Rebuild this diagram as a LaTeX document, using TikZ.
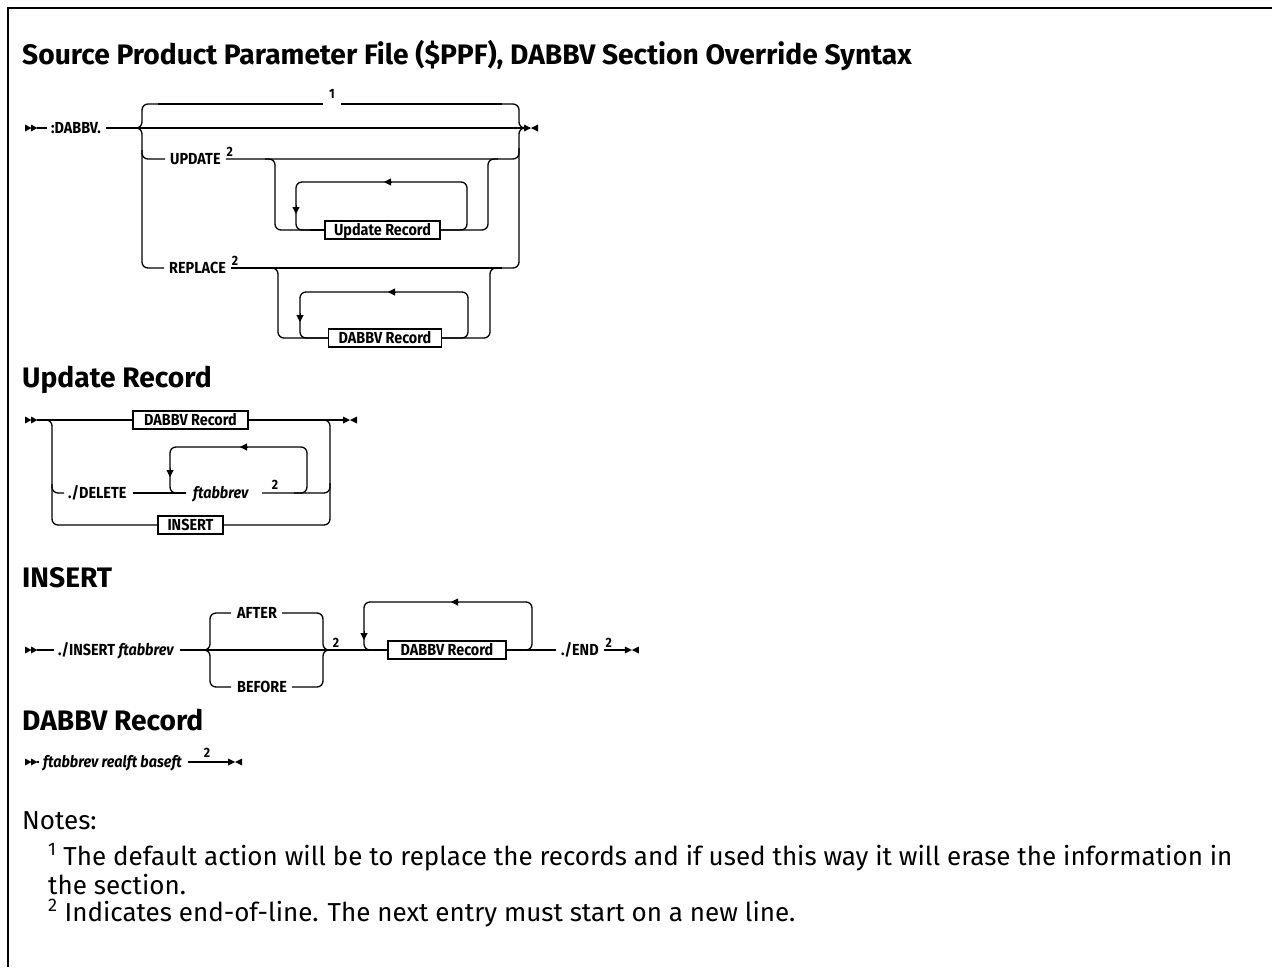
\documentclass[tikz,border=0pt]{standalone}
\usepackage{fontspec}
\setmainfont{Fira Sans}
\newfontfamily\dfont[FakeStretch=0.9]{Fira Sans}
\usetikzlibrary{arrows.meta}
\tikzset{
  rail/.style={line width=1.3pt, rounded corners=6pt},
  lbl/.style={font=\dfont\bfseries\fontsize{16}{17}\selectfont, inner sep=0pt, anchor=west, text height=11pt, text depth=0pt},
  ilbl/.style={lbl, font=\dfont\bfseries\itshape\fontsize{16}{17}\selectfont},
  notemark/.style={font=\dfont\bfseries\fontsize{13.5}{14}\selectfont, inner sep=0pt, anchor=center},
  rbox/.style={draw, line width=1.1pt, fill=white, font=\dfont\bfseries\fontsize{16}{17}\selectfont, inner sep=0pt, minimum height=18pt, text height=11pt, text depth=0pt, anchor=center},
  head/.style={font=\bfseries\fontsize{28.2}{30}\selectfont, inner sep=0pt, anchor=base west},
  notes/.style={font=\fontsize{26}{30}\selectfont, inner sep=0pt, anchor=base west},
  tip/.style={-{Triangle[length=7pt,width=7pt]}, line width=1pt},
  startmark/.pic={\fill (0,-3.5) -- (6.5,0) -- (0,3.5) -- cycle; \fill (6,-3.5) -- (12.5,0) -- (6,3.5) -- cycle;},
  endmark/.pic={\fill (0,-3.5) -- (7,0) -- (0,3.5) -- cycle; \fill (14,-3.5) -- (7,0) -- (14,3.5) -- cycle;}
}
\begin{document}
\begin{tikzpicture}[x=1pt,y=-1pt]
\useasboundingbox (0,0) rectangle (1272,967);
\draw[line width=2.2pt] (8,967) -- (8,8) -- (1272,8);
\node[head] (title) at (22,64) {Source Product Parameter File (\$PPF), DABBV Section Override Syntax};

% ---------- Diagram 1 ----------
\pic at (25,128) {startmark};
\node[lbl] (dabbv) at (51,128) {:DABBV.};
\draw[rail] (37,128) -- ([xshift=-4pt]dabbv.west);
\coordinate (endA) at (524,128);
\draw[rail] ([xshift=5pt]dabbv.east) -- (endA);
\pic at (endA) {endmark};
% left brace
\draw[rail] (160,104) -- (142,104) -- (142,128) -- (132,128);
\draw[rail] (132,128) -- (142,128) -- (142,268) -- (164,268);
\draw[rail] (142,150) -- (142,159) -- (165,159);
% right brace
\draw[rail] (500,104) -- (519,104) -- (519,128) -- (528,128);
\draw[rail] (528,128) -- (519,128) -- (519,268) -- (500,268);
% top default line with note 1
\draw[rail] (158,104) -- (323,104);
\draw[rail] (341,104) -- (502,104);
\node[notemark] (n1mark) at (332,94) {1};
% UPDATE
\node[lbl] (update) at (170,159) {UPDATE};
\node[notemark] (u2) at ([xshift=9pt,yshift=7pt]update.east) {2};
\draw[rail] ([xshift=-4pt,yshift=-7pt]u2.center) -- (519,159) -- (519,148);
\node[rbox, minimum width=115pt] (urec) at (382.5,230) {Update Record};
\draw[rail] (265,159) -- (275,159) -- (275,230) -- (urec.west);
\draw[rail] (urec.east) -- (488,230) -- (488,159) -- (498,159);
\draw[rail] (310,230) -- (296,230) -- (296,182) -- (467,182) -- (467,230) -- (urec.east);
\draw[rail] (310,230) -- (urec.west);
\draw[tip] (392,182) -- (384,182);
\draw[tip] (296,205) -- (296,214);
% REPLACE
\node[lbl] (replace) at (169,268) {REPLACE};
\node[notemark] (r2) at ([xshift=9pt,yshift=7pt]replace.east) {2};
\draw[rail] ([xshift=-4pt,yshift=-7pt]r2.center) -- (502,268);
\node[rbox, minimum width=113pt] (drec1) at (385,338) {DABBV Record};
\draw[rail] (268,268) -- (278,268) -- (278,338) -- (drec1.west);
\draw[rail] (drec1.east) -- (490,338) -- (490,268) -- (500,268);
\draw[rail] (drec1.west) -- (300,338) -- (300,292) -- (468,292) -- (468,338) -- (drec1.east);
\draw[tip] (396,292) -- (388,292);
\draw[tip] (300,313) -- (300,322);

% ---------- Diagram 2 ----------
\node[head] (h2) at (22,387) {Update Record};
\pic at (25,420) {startmark};
\node[rbox, minimum width=115pt] (d2box) at (190.5,420) {DABBV Record};
\node[rbox, minimum width=65pt] (insbox) at (190.5,525) {INSERT};
\draw[rail] (37,420) -- (d2box.west);
\coordinate (endB) at (343,420);
\draw[rail] (d2box.east) -- (endB);
\pic at (endB) {endmark};
\draw[rail] (40,420) -- (52,420) -- (52,525) -- (insbox.west);
\draw[rail] (320,420) -- (330,420) -- (330,525) -- (insbox.east);
\draw[rail] (52,484) -- (52,493) -- (64,493);
\node[lbl] (del) at (68,493) {./DELETE};
\node[ilbl] (fta) at (193,493) {ftabbrev};
\node[notemark] (d2) at (275,485) {2};
\draw[rail] ([xshift=6pt]del.east) -- (186,493);
\draw[rail] (262,493) -- (330,493) -- (330,483);
\draw[rail] (186,493) -- (170,493) -- (170,447) -- (307,447) -- (307,493) -- (294,493);
\draw[tip] (248,447) -- (240,447);
\draw[tip] (170,468) -- (170,477);

% ---------- Diagram 3 ----------
\node[head] (h3) at (22,587) {INSERT};
\pic at (25,650) {startmark};
\node[lbl] (ins) at (58,650) {./INSERT \textit{ftabbrev}};
\draw[rail] (37,650) -- ([xshift=-4pt]ins.west);
\node[rbox, minimum width=118pt] (d3box) at (447,650) {DABBV Record};
\draw[rail] ([xshift=6pt]ins.east) -- (d3box.west);
\draw[rail] (231,613) -- (210,613) -- (210,650) -- (202,650);
\draw[rail] (202,650) -- (210,650) -- (210,687) -- (231,687);
\node[lbl] (after) at (237,613) {AFTER};
\node[lbl] (before) at (237,687) {BEFORE};
\draw[rail] ([xshift=5pt]after.east) -- (323,613) -- (323,650) -- (331,650);
\draw[rail] (331,650) -- (323,650) -- (323,687) -- ([xshift=5pt]before.east);
\node[notemark] (a2) at (336,643) {2};
\draw[rail] (d3box.west) -- (364,650) -- (364,602) -- (532,602) -- (532,650) -- (d3box.east);
\draw[tip] (459,602) -- (451,602);
\draw[tip] (364,631) -- (364,640);
\node[lbl] (endw) at (561,650) {./END};
\draw[rail] (d3box.east) -- ([xshift=-5pt]endw.west);
\node[notemark] (e2) at ([xshift=10pt,yshift=7pt]endw.east) {2};
\coordinate (endC) at ([xshift=26pt]endw.east);
\draw[rail] ([xshift=5pt]endw.east) -- (endC);
\pic at (endC) {endmark};

% ---------- Diagram 4 ----------
\node[head] (h4) at (22,730) {DABBV Record};
\pic at (25,762) {startmark};
\node[ilbl] (d4) at (43,762) {ftabbrev realft baseft};
\draw[rail] (37,762) -- ([xshift=-4pt]d4.west);
\node[notemark] (f2) at ([xshift=25pt,yshift=9pt]d4.east) {2};
\coordinate (endD) at ([xshift=46pt]d4.east);
\draw[rail] ([xshift=6pt]d4.east) -- (endD);
\pic at (endD) {endmark};

% ---------- Notes ----------
\node[notes] (nh) at (22,829) {Notes:};
\node[notes] (nt1) at (48,865) {\textsuperscript{1} The default action will be to replace the records and if used this way it will erase the information in};
\node[notes] (nt1b) at (48,894) {the section.};
\node[notes] (nt2) at (48,921) {\textsuperscript{2} Indicates end-of-line. The next entry must start on a new line.};
\end{tikzpicture}
\end{document}
